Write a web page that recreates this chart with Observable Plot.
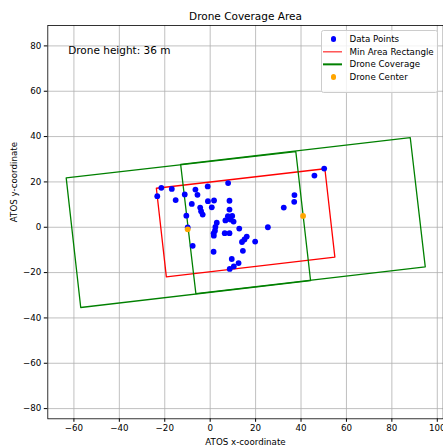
<!DOCTYPE html>
<html>
<head>
<meta charset="utf-8">
<script src="https://cdn.jsdelivr.net/npm/d3@7"></script>
<script src="https://cdn.jsdelivr.net/npm/@observablehq/plot@0.6"></script>
<style>
  html, body { margin: 0; padding: 0; background: white; }
  #wrap { position: relative; width: 443px; height: 446px; overflow: hidden; }
  #legend { position: absolute; left: 320.7px; top: 29.7px; width: 117.5px; height: 63.6px;
    background: rgba(255,255,255,0.8); border: 0.8px solid #cccccc; border-radius: 2.5px;
    box-sizing: border-box; font-family: "DejaVu Sans", sans-serif; font-size: 8.7px; color: #000; }
  .row { position: absolute; left: 0; height: 12px; width: 100%; }
  .lbl { position: absolute; left: 27.8px; top: 50%; transform: translateY(-50%); white-space: nowrap; }
  .dot { position: absolute; left: 9px; top: 50%; width: 5.8px; height: 5.8px; border-radius: 50%; transform: translateY(-50%); }
  .ln { position: absolute; left: 1.8px; top: 50%; width: 19px; height: 1.3px; transform: translateY(-50%); }
</style>
</head>
<body>
<div id="wrap"></div>
<script>
// ---- data ----
const pointsX = [-23.3,-21.5,-16.9,-15.2,-11.2,-6.5,-5.6,-8.1,-4.4,-4.0,-3.3,-10.5,-1.1,-1.0,1.7,0.7,7.9,8.5,8.5,7.8,9.7,8.9,10.3,6.7,2.9,2.1,1.5,1.6,2.3,6.4,8.5,12.8,16.1,15.1,14.0,19.8,14.4,-7.7,1.5,9.5,12.5,10.4,8.6,25.4,32.4,37.0,37.1,45.9,50.2,-9.9];
const pointsY = [13.7,17.4,16.9,12.0,14.5,16.6,14.3,10.3,8.7,7.1,5.6,5.1,18.0,11.5,11.8,8.8,19.5,11.7,7.8,4.9,5.0,3.4,2.5,3.0,2.0,-1.5,-2.7,-3.7,0.1,-2.6,-2.6,-0.6,-4.1,-5.4,-6.5,-6.3,-10.4,-8.2,-10.8,-14.0,-15.8,-17.3,-18.4,0.0,8.7,11.2,14.2,22.8,25.9,-0.1];

const minRectX = [-23.7, 50.5, 54.9, -19.3];
const minRectY = [17.2, 25.8, -13.2, -21.9];

const coverageAX = [-63.4, 37.7, 44.2, -57.0];
const coverageAY = [21.8, 33.4, -23.5, -35.4];
const coverageBX = [-13.0, 88.1, 94.7, -6.3];
const coverageBY = [27.7, 39.5, -17.5, -29.3];

const centersX = [-9.9, 40.9];
const centersY = [-0.9, 5.0];

const xTicks = [-60, -40, -20, 0, 20, 40, 60, 80, 100];
const yTicks = [-80, -60, -40, -20, 0, 20, 40, 60, 80];

const titleText = "Drone Coverage Area";
const xLabel = "ATOS x-coordinate";
const yLabel = "ATOS y-coordinate";
const noteText = "Drone height: 36 m";
const legendLabels = ["Data Points", "Min Area Rectangle", "Drone Coverage", "Drone Center"];
const legendKinds = ["dot", "line", "line", "dot"];
const legendColors = ["blue", "red", "green", "orange"];

// ---- tables ----
const points = pointsX.map((x, i) => ({x, y: pointsY[i]}));
const closed = (xs, ys, id) => xs.concat([xs[0]]).map((x, i) => ({x, y: (ys.concat([ys[0]]))[i], id}));
const minRect = closed(minRectX, minRectY, "min");
const coverage = closed(coverageAX, coverageAY, "A").concat(closed(coverageBX, coverageBY, "B"));
const centers = centersX.map((x, i) => ({x, y: centersY[i]}));

const chart = Plot.plot({
  width: 443,
  height: 446,
  marginTop: 25,
  marginBottom: 27.7,
  marginLeft: 47.3,
  marginRight: 0.3,
  style: {fontFamily: "DejaVu Sans, sans-serif", fontSize: "8.7px", background: "white", color: "black"},
  x: {domain: [-71.5, 102.6], ticks: xTicks, tickSize: 3.5, tickPadding: 3, label: null, tickFormat: d3.format("d")},
  y: {domain: [-84.5, 89], ticks: yTicks, tickSize: 3.5, tickPadding: 3, label: null, tickFormat: d3.format("d")},
  marks: [
    Plot.ruleX(xTicks, {stroke: "#b0b0b0", strokeWidth: 0.8}),
    Plot.ruleY(yTicks, {stroke: "#b0b0b0", strokeWidth: 0.8}),
    Plot.line(minRect, {x: "x", y: "y", z: "id", stroke: "red", strokeWidth: 1.3, curve: "linear"}),
    Plot.line(coverage, {x: "x", y: "y", z: "id", stroke: "green", strokeWidth: 1.3, curve: "linear"}),
    Plot.dot(points, {x: "x", y: "y", r: 2.9, fill: "blue", stroke: null}),
    Plot.dot(centers, {x: "x", y: "y", r: 2.9, fill: "orange", stroke: null}),
    Plot.frame({stroke: "black", strokeWidth: 0.8}),
    Plot.text([titleText], {frameAnchor: "top", dy: -9, lineAnchor: "middle", fontSize: 10.5, fill: "black"}),
    Plot.text([noteText], {frameAnchor: "top-left", dx: 20.4, dy: 25, textAnchor: "start", lineAnchor: "middle", fontSize: 10.5, fill: "black"}),
    Plot.text([xLabel], {frameAnchor: "bottom", dy: 23.4, lineAnchor: "middle", fill: "black"}),
    Plot.text([yLabel], {frameAnchor: "left", dx: -33.3, rotate: -90, lineAnchor: "middle", fill: "black"})
  ]
});

const wrap = document.getElementById("wrap");
wrap.appendChild(chart);

// legend
const legend = document.createElement("div");
legend.id = "legend";
legendLabels.forEach((label, i) => {
  const row = document.createElement("div");
  row.className = "row";
  row.style.top = (2.3 + i * 12.65) + "px";
  const sym = document.createElement("span");
  sym.className = legendKinds[i] === "dot" ? "dot" : "ln";
  sym.style.background = legendColors[i];
  const txt = document.createElement("span");
  txt.className = "lbl";
  txt.textContent = label;
  row.appendChild(sym);
  row.appendChild(txt);
  legend.appendChild(row);
});
wrap.appendChild(legend);
</script>
</body>
</html>
